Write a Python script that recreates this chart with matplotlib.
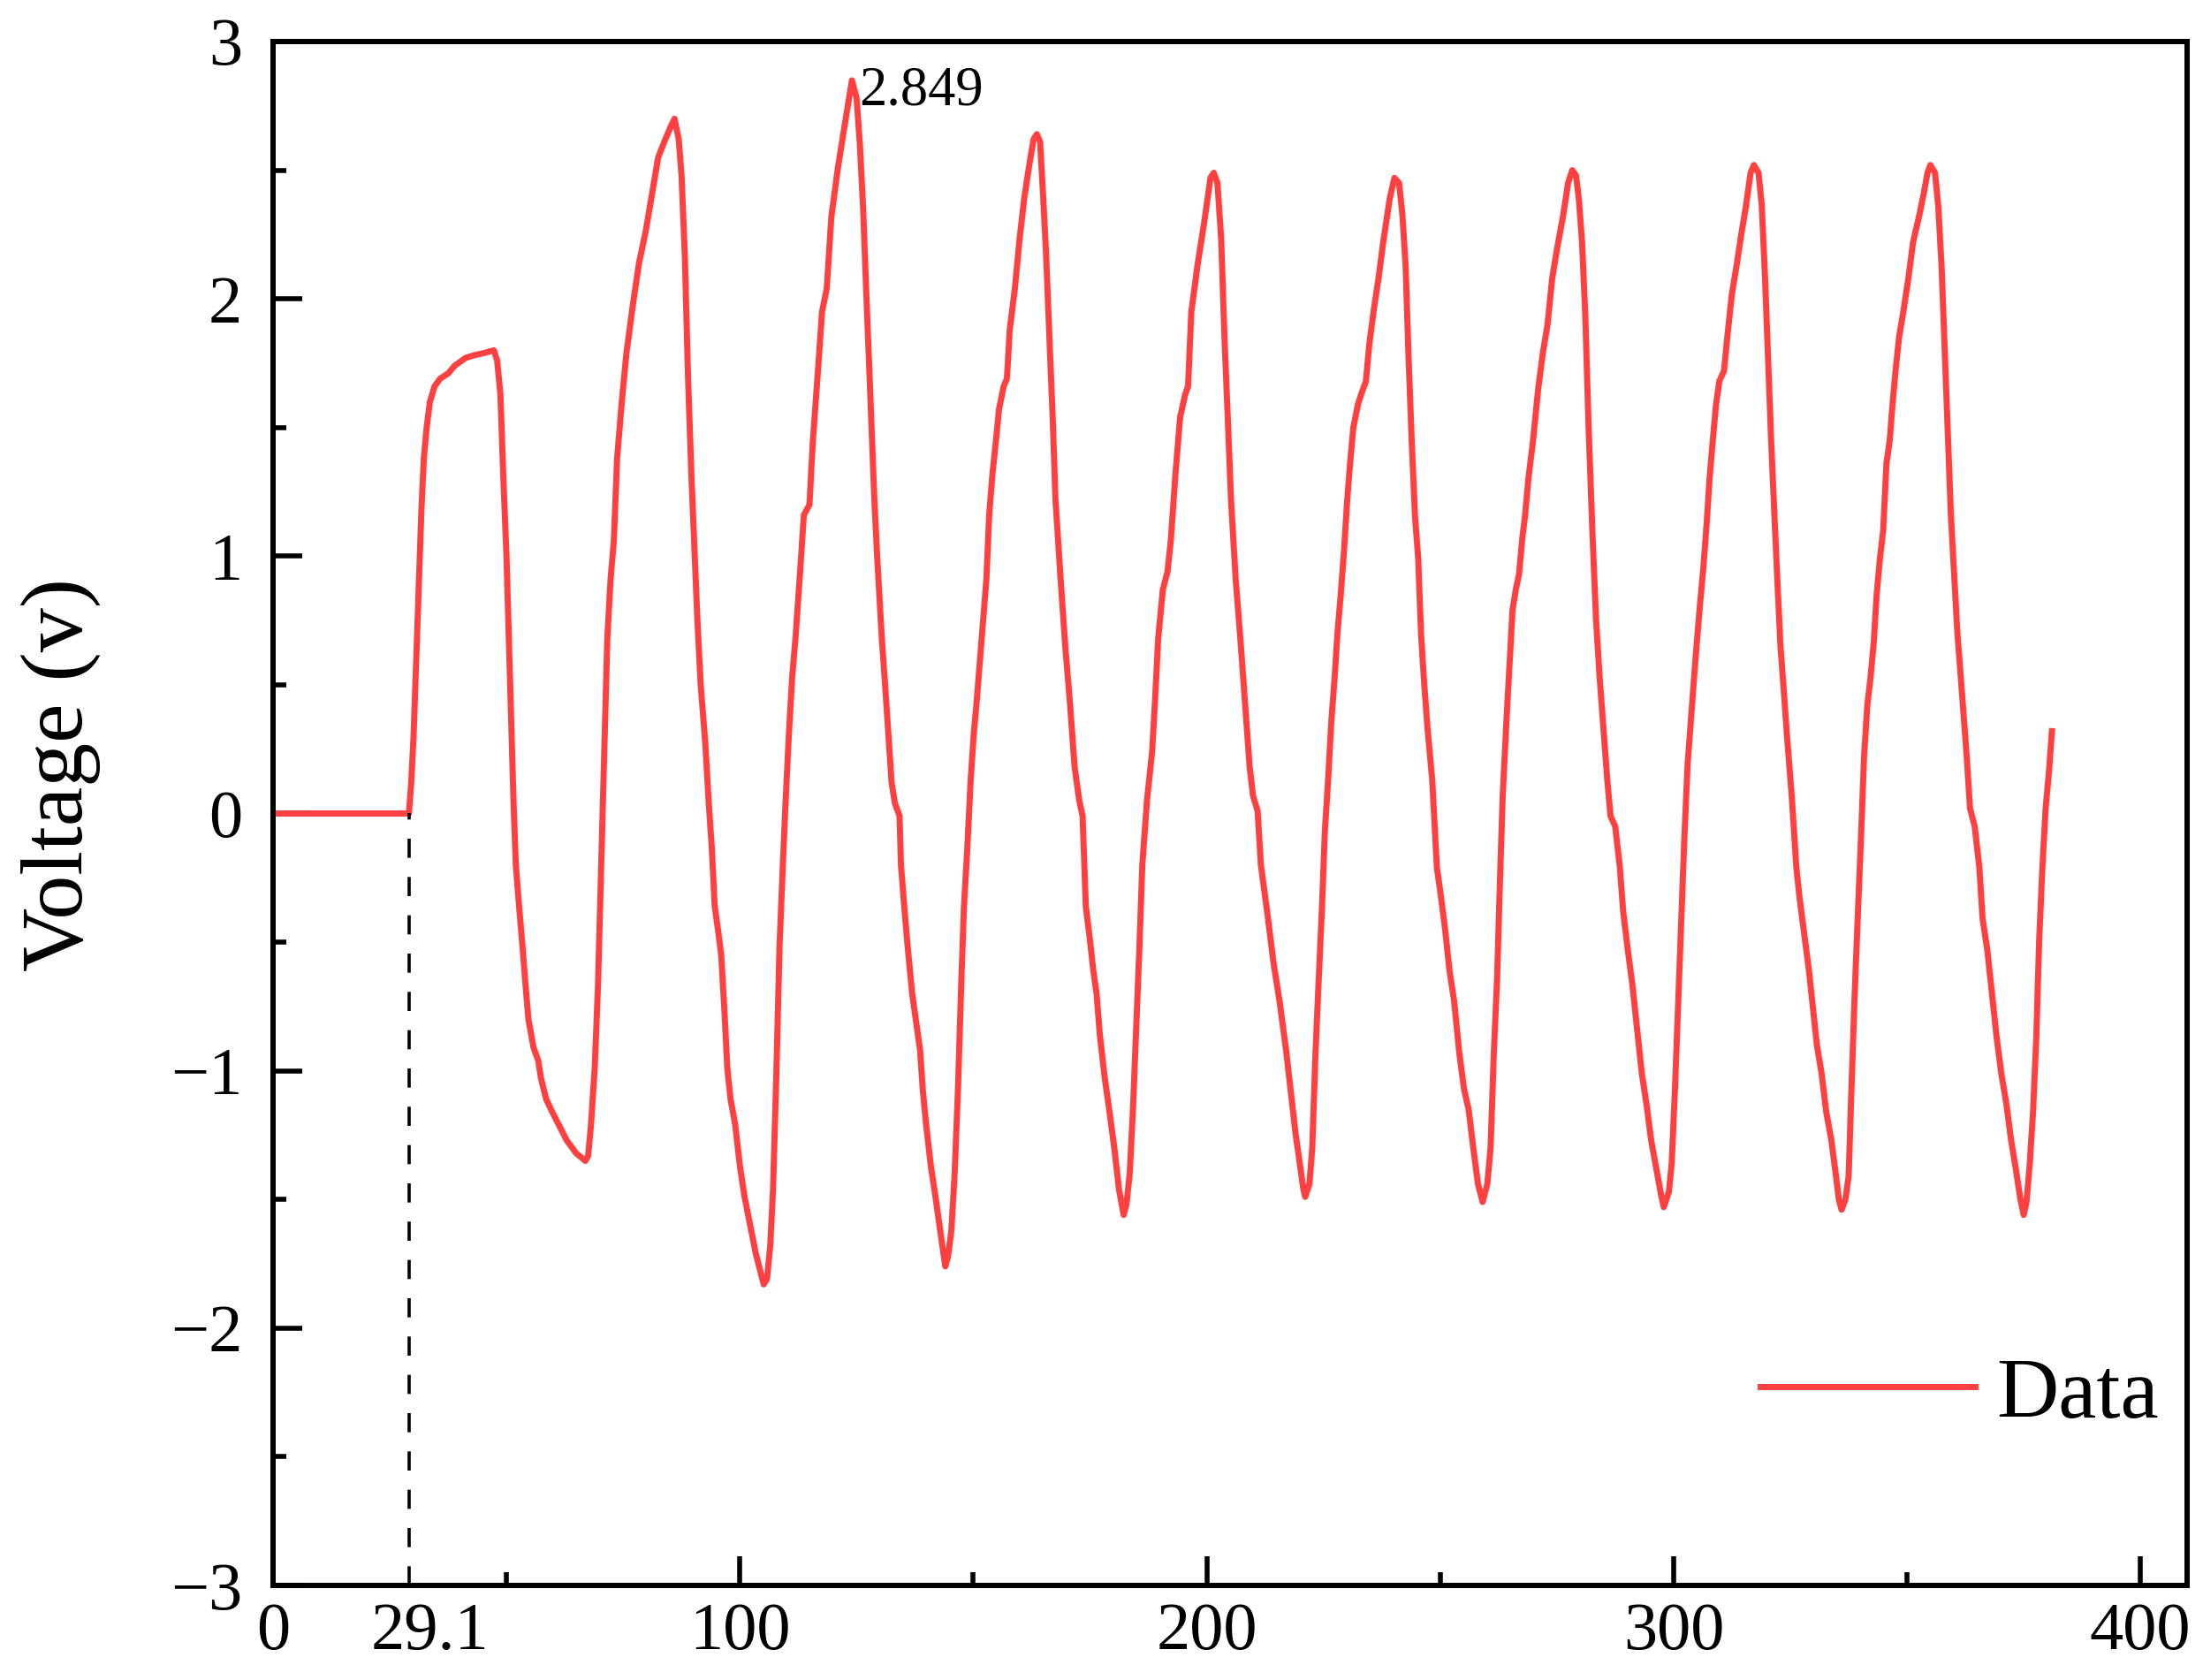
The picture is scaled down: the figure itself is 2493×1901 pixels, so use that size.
import matplotlib
matplotlib.use("Agg")
import matplotlib.pyplot as plt
from matplotlib.transforms import ScaledTranslation

plt.rcParams['font.family'] = ['Liberation Serif', 'DejaVu Serif']

# ---- data ----
time = [0, 29.1, 29.6, 30.1, 30.6, 31.2, 31.8, 32.3, 32.9, 33.6, 34.6, 35.8, 37.5, 38.9, 41.2, 42.9, 45.3, 47.3, 48.0,
        48.7, 49.3, 50.0, 50.5, 51.0, 51.5, 52.0, 52.7, 53.4, 54.1, 54.7, 55.8, 56.8, 57.4, 58.5, 59.8, 61.5, 62.9,
        64.9, 66.9, 67.5,
        68.1, 68.9, 69.6, 70.3, 71.0, 71.6, 72.3, 73.0, 73.7, 74.7, 75.7, 77.1, 78.4, 79.8, 81.1, 82.5, 83.8, 85.2,
        86.0, 86.9,
        87.5, 88.2, 88.9, 89.6, 90.2, 90.9, 91.6, 92.6, 93.3, 94.0, 94.6, 95.3, 96.0, 96.7, 97.3, 98.0, 99.0, 100.0,
        101.0, 102.1, 103.4, 104.4, 105.1,
        105.8, 106.5, 107.1, 107.8, 108.5, 109.2, 109.8, 110.5, 111.2, 111.9, 112.9, 113.7, 114.9, 115.6, 116.6, 117.6,
        118.6, 119.6, 121.0, 122.4, 124.0, 125.0,
        125.7, 126.4, 127.1, 127.8, 128.8, 129.4, 130.4, 131.1, 131.8, 132.5, 133.2, 134.2, 134.5, 135.2, 135.9, 136.9,
        137.9, 138.6, 139.2, 139.9, 140.9, 141.9, 142.9, 144.0, 144.6,
        145.3, 146.0, 146.7, 147.4, 148.0, 148.7, 149.4, 150.1, 150.7, 151.4, 152.1, 152.8, 153.4, 154.1, 154.8, 155.5,
        156.5, 157.2, 157.8, 158.9, 159.9, 160.9, 161.9, 162.9, 163.6, 164.3,
        164.9, 165.6, 166.3, 167.0, 167.6, 168.7, 169.7, 170.7, 171.7, 172.7, 173.4, 174.1, 175.1, 175.7, 176.4, 177.1,
        178.1, 179.1, 180.2, 181.2, 182.2, 182.8,
        183.5, 184.2, 184.9, 185.6, 186.2, 187.2, 188.3, 188.9, 189.6, 190.6, 191.6, 192.3, 193.3, 194.3, 195.4, 196.0,
        196.7, 198.1, 199.4, 200.8, 201.5, 202.3,
        203.1, 203.8, 204.5, 205.2, 206.2, 207.2, 208.2, 209.2, 209.9, 210.9, 211.6, 213.0, 214.3, 215.6, 217.0, 218.0,
        219.0, 220.0, 220.7, 221.1,
        222.0, 222.6, 223.3, 224.0, 224.7, 225.3, 226.0, 226.7, 227.4, 228.0, 228.7, 229.4, 230.1, 230.7, 231.4, 232.4,
        233.1, 234.1, 234.8, 235.8, 236.8, 237.8, 239.2, 240.2, 241.2,
        241.9, 242.6, 243.2, 243.9, 244.6, 245.3, 245.9, 246.6, 247.3, 248.3, 249.3, 250.0, 251.0, 252.0, 253.0, 254.1,
        255.1, 256.1, 257.1, 258.1, 259.1,
        260.1, 260.8, 261.5, 262.2, 262.8, 263.4, 264.2, 264.9, 265.5, 266.2, 266.9, 267.6, 268.2, 268.9, 269.9, 271.0,
        272.0, 273.0, 274.0, 275.0, 276.4, 277.4, 278.3, 279.1,
        279.7, 280.4, 281.1, 281.8, 282.6, 283.4, 284.2, 285.1, 285.8, 286.5, 287.5, 288.5, 289.2, 290.2, 291.2, 292.2,
        293.2, 294.2, 295.2, 296.3, 297.3, 297.9,
        299.0, 299.6, 300.3, 301.0, 301.7, 302.3, 303.0, 303.7, 304.4, 305.0, 305.7, 306.4, 307.1, 307.7, 308.4, 309.1,
        309.8, 310.8, 311.5, 312.5, 313.5, 314.5, 315.5, 316.5, 317.2, 318.2,
        318.9, 319.6, 320.2, 320.9, 321.6, 322.3, 322.9, 323.6, 324.3, 325.3, 326.3, 327.0, 328.0, 329.0, 329.7, 330.7,
        331.7, 332.7, 333.8, 334.8, 335.4, 336.0,
        336.8, 337.5, 338.1, 338.8, 339.5, 340.2, 340.8, 341.5, 342.2, 342.9, 343.5, 344.2, 344.9, 345.6, 346.3, 346.9,
        347.6, 348.3, 349.3, 350.3, 351.3, 352.7, 353.7, 354.4, 355.0, 356.0,
        356.7, 357.4, 358.1, 358.8, 359.4, 360.1, 360.8, 361.4, 362.1, 362.8, 363.5, 364.5, 365.5, 366.2, 367.2, 368.2,
        369.2, 370.2, 371.3, 372.3, 373.3, 374.3, 375.0,
        375.6, 376.3, 377.0, 377.7, 378.3, 379.0, 379.7, 380.4, 381.05]

voltage = [0, 0, 0.12, 0.30, 0.56, 0.87, 1.19, 1.38, 1.50, 1.60, 1.66, 1.69, 1.71, 1.74, 1.77, 1.78, 1.79, 1.80, 1.76,
           1.63, 1.32, 1.00, 0.69, 0.37, 0.05, -0.20, -0.36, -0.51, -0.67, -0.80, -0.91, -0.96, -1.03, -1.11, -1.16,
           -1.22, -1.27, -1.32, -1.35, -1.33,
           -1.21, -0.99, -0.67, -0.20, 0.27, 0.68, 0.91, 1.06, 1.38, 1.60, 1.79, 1.98, 2.14, 2.26, 2.40, 2.55, 2.61,
           2.67, 2.70, 2.62,
           2.48, 2.17, 1.69, 1.32, 1.06, 0.75, 0.50, 0.27, 0.05, -0.14, -0.36, -0.45, -0.55, -0.77, -0.99, -1.11,
           -1.21, -1.37, -1.49, -1.59, -1.71, -1.78, -1.83,
           -1.81, -1.68, -1.46, -1.02, -0.51, -0.20, 0.05, 0.31, 0.53, 0.68, 0.94, 1.16, 1.20, 1.44, 1.69, 1.95,
           2.04, 2.32, 2.51, 2.67, 2.849, 2.78,
           2.60, 2.35, 2.01, 1.69, 1.22, 1.00, 0.68, 0.50, 0.31, 0.12, 0.04, -0.01, -0.20, -0.36, -0.51, -0.70,
           -0.83, -0.92, -1.08, -1.21, -1.37, -1.49, -1.62, -1.76, -1.72,
           -1.62, -1.40, -1.08, -0.67, -0.36, -0.14, 0.12, 0.31, 0.43, 0.59, 0.75, 0.91, 1.16, 1.32, 1.44, 1.57,
           1.66, 1.69, 1.88, 2.04, 2.23, 2.39, 2.51, 2.62, 2.64, 2.61,
           2.42, 2.17, 1.85, 1.54, 1.22, 0.91, 0.65, 0.43, 0.18, 0.05, -0.01, -0.36, -0.51, -0.61, -0.70, -0.86,
           -1.02, -1.15, -1.30, -1.46, -1.56, -1.52,
           -1.40, -1.15, -0.83, -0.51, -0.20, 0.05, 0.24, 0.43, 0.68, 0.87, 0.94, 1.06, 1.32, 1.54, 1.63, 1.66,
           1.95, 2.14, 2.29, 2.47, 2.49, 2.45,
           2.23, 1.85, 1.54, 1.22, 0.91, 0.68, 0.43, 0.18, 0.07, 0.01, -0.20, -0.39, -0.58, -0.73, -0.92, -1.08,
           -1.24, -1.37, -1.46, -1.49,
           -1.44, -1.30, -0.93, -0.64, -0.36, -0.07, 0.13, 0.36, 0.53, 0.70, 0.85, 1.02, 1.22, 1.36, 1.50, 1.59,
           1.63, 1.68, 1.82, 1.96, 2.08, 2.22, 2.39, 2.47, 2.45,
           2.33, 2.13, 1.79, 1.45, 1.16, 0.99, 0.70, 0.50, 0.33, 0.13, -0.21, -0.30, -0.44, -0.61, -0.73, -0.93,
           -1.07, -1.15, -1.30, -1.44, -1.51,
           -1.44, -1.30, -0.93, -0.64, -0.27, 0.07, 0.36, 0.59, 0.79, 0.87, 0.93, 1.07, 1.16, 1.30, 1.45, 1.65,
           1.79, 1.90, 2.08, 2.19, 2.33, 2.45, 2.50, 2.48,
           2.39, 2.22, 1.93, 1.50, 1.10, 0.75, 0.52, 0.30, 0.13, -0.01, -0.05, -0.21, -0.38, -0.53, -0.67, -0.84,
           -1.01, -1.13, -1.27, -1.38, -1.48, -1.53,
           -1.47, -1.36, -1.07, -0.73, -0.38, -0.10, 0.19, 0.36, 0.53, 0.67, 0.82, 0.96, 1.13, 1.30, 1.45, 1.59,
           1.68, 1.72, 1.85, 2.02, 2.13, 2.25, 2.36, 2.49, 2.52, 2.49,
           2.36, 2.08, 1.79, 1.45, 1.16, 0.88, 0.65, 0.48, 0.30, 0.07, -0.21, -0.33, -0.47, -0.61, -0.73, -0.90,
           -1.01, -1.16, -1.27, -1.41, -1.50, -1.54,
           -1.50, -1.41, -1.07, -0.70, -0.38, -0.07, 0.22, 0.42, 0.53, 0.67, 0.85, 0.99, 1.10, 1.36, 1.45, 1.59,
           1.73, 1.85, 1.96, 2.08, 2.22, 2.33, 2.42, 2.49, 2.52, 2.49,
           2.36, 2.13, 1.79, 1.45, 1.16, 0.93, 0.70, 0.56, 0.39, 0.22, 0.02, -0.05, -0.21, -0.41, -0.53, -0.70,
           -0.87, -1.01, -1.13, -1.27, -1.38, -1.50, -1.56,
           -1.51, -1.36, -1.16, -0.87, -0.50, -0.21, 0.02, 0.16, 0.32]

start_time = 29.1
peak_time = 124.0
peak_value = 2.849
x_ticks = [0, 29.1, 100, 200, 300, 400]
x_ticklabels = ['0', '29.1', '100', '200', '300', '400']
x_minor = [50, 150, 250, 350]
y_ticks = [-3, -2, -1, 0, 1, 2, 3]
y_minor = [-2.5, -1.5, -0.5, 0.5, 1.5, 2.5]

# ---- figure ----
fig = plt.figure(figsize=(24.93, 19.01), dpi=100)
ax = fig.add_axes([309/2493, 107/1901, 2166/2493, 1747/1901])

ax.plot(time, voltage, color='#FF4040', lw=5.0, label='Data', solid_joinstyle='round')
ax.plot([start_time, start_time], [-3, 0], color='black', lw=2.6, linestyle=(0, (6, 6)))

ax.set_xlim(0, 410)
ax.set_ylim(-3, 3)

ax.set_xticks(x_ticks)
ax.set_xticklabels(x_ticklabels)
ax.set_xticks(x_minor, minor=True)
ax.set_yticks(y_ticks)
ax.set_yticks(y_minor, minor=True)

ax.tick_params(which='both', direction='in', top=False, right=False, width=4)
ax.tick_params(which='major', length=24, labelsize=55)
ax.tick_params(axis='x', which='major', pad=14)
ax.tick_params(axis='y', which='major', pad=25)
ax.tick_params(which='minor', length=11)
for s in ax.spines.values():
    s.set_linewidth(4.3)

# the "29.1" mark has no tick line and its label sits a little to the right
t291 = ax.xaxis.get_major_ticks()[1]
t291.tick1line.set_visible(False)
t291.label1.set_transform(t291.label1.get_transform() + ScaledTranslation(0.24, 0, fig.dpi_scale_trans))

ax.set_ylabel('Voltage (v)', fontsize=72)
ax.yaxis.set_label_coords(-0.090, 0.525)

ax.text(peak_time + 1.6, 2.755, f'{peak_value:.3f}', fontsize=45, ha='left', va='baseline')

leg = ax.legend(loc='center right', bbox_to_anchor=(0.985, 0.1225), frameon=False, fontsize=70,
                handlelength=2.5, handletextpad=0.25, borderpad=0, borderaxespad=0)

fig.savefig('out.png', dpi=100)
